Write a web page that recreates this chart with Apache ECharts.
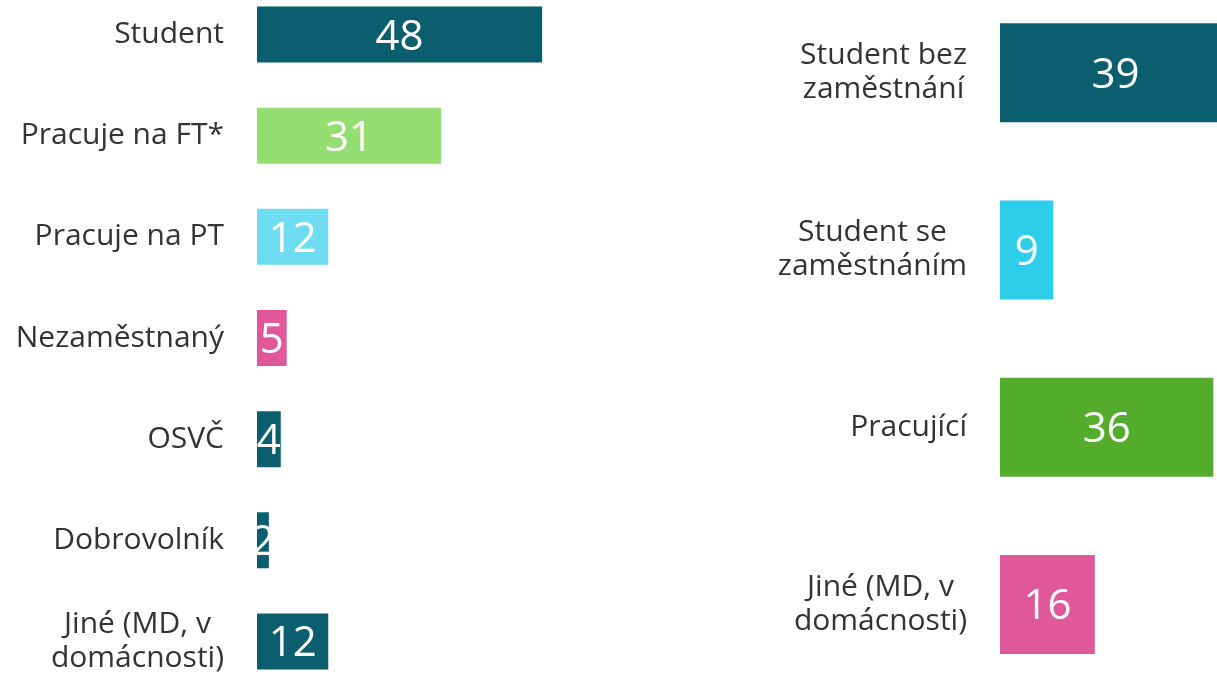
<!DOCTYPE html>
<html>
<head>
<meta charset="utf-8">
<title>Status</title>
<script src="https://cdn.jsdelivr.net/npm/echarts@6/dist/echarts.min.js"></script>
<style>
    html, body { margin: 0; padding: 0; background: #fff; overflow: hidden; width: 1217px; height: 679px; }
    /* kontejner je větší než okno, aby sloupce mohly sahat až k okrajům */
    #chart { position: absolute; left: 0; top: -30px; width: 1257px; height: 760px; }
</style>
</head>
<body>
<div id="chart"></div>
<script>
// levý graf - podrobný status
var leftCats = ['Student', 'Pracuje na FT*', 'Pracuje na PT', 'Nezaměstnaný', 'OSVČ', 'Dobrovolník', 'Jiné (MD, v\ndomácnosti)'];
var leftVals = [48, 31, 12, 5, 4, 2, 12];
// pravý graf - souhrn
var rightCats = ['Student bez\nzaměstnání', 'Student se\nzaměstnáním', 'Pracující', 'Jiné (MD, v\ndomácnosti)'];
var rightVals = [39, 9, 36, 16];

var leftColors = ['#0b5e6d', '#95de72', '#6fdcf1', '#e0589a', '#0b5e6d', '#0b5e6d', '#0b5e6d'];
var rightColors = ['#0b5e6d', '#2ecdea', '#53ac2c', '#e0589a'];

var font = "'Open Sans', 'Noto Sans', sans-serif";

var catLabel = function () {
    return {
        margin: 33,
        formatter: function (v) {
            return v.split('\n').map(function (s) { return '{c|' + s + '}'; }).join('\n');
        },
        rich: {
            c: { align: 'center', fontSize: 30, lineHeight: 34, color: '#333333', fontFamily: font }
        }
    };
};

var barSeries = function (idx, vals, colors, width) {
    return {
        type: 'bar',
        xAxisIndex: idx,
        yAxisIndex: idx,
        barWidth: width,
        silent: true,
        data: vals.map(function (v, i) {
            return { value: v, itemStyle: { color: colors[i] } };
        }),
        label: {
            show: true,
            position: 'inside',
            offset: [0, 3],
            color: '#ffffff',
            fontSize: 42,
            fontFamily: font
        }
    };
};

var myChart = echarts.init(document.getElementById('chart'));
var option = {
    animation: false,
    backgroundColor: '#ffffff',
    grid: [
        { left: 257, width: 297, top: 14, bottom: 38 },
        { left: 1000, right: 20, top: 14, bottom: 37 }
    ],
    xAxis: [
        { gridIndex: 0, type: 'value', min: 0, max: 50, show: false },
        { gridIndex: 1, type: 'value', min: 0, max: 40, show: false }
    ],
    yAxis: [
        {
            gridIndex: 0, type: 'category', inverse: true, data: leftCats,
            axisLine: { show: false }, axisTick: { show: false }, splitLine: { show: false },
            axisLabel: catLabel()
        },
        {
            gridIndex: 1, type: 'category', inverse: true, data: rightCats,
            axisLine: { show: false }, axisTick: { show: false }, splitLine: { show: false },
            axisLabel: catLabel()
        }
    ],
    series: [
        barSeries(0, leftVals, leftColors, 56),
        barSeries(1, rightVals, rightColors, 99)
    ]
};
myChart.setOption(option);
</script>
</body>
</html>
